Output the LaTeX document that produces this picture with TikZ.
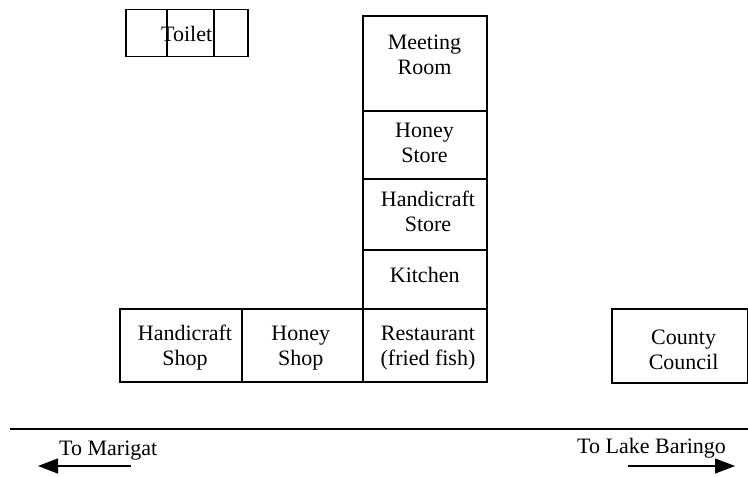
\documentclass[tikz,border=0pt]{standalone}
\usepackage{fontspec}
\setmainfont{Liberation Serif}
\usetikzlibrary{arrows.meta,calc}
\tikzset{
  room/.style={draw, line width=1.3pt, rectangle, inner sep=0pt},
  txt/.style={inner sep=0pt, anchor=base, align=center,
    font=\fontsize{22}{25}\selectfont},
  lbl/.style={inner sep=0pt, anchor=base west, font=\fontsize{22}{25}\selectfont},
  road/.style={line width=1.3pt},
  dir/.style={line width=1.3pt, -{Triangle[length=20pt,width=15pt]}}
}
\begin{document}
\begin{tikzpicture}[x=1pt,y=-1pt]
\useasboundingbox (0,0) rectangle (748,477);
% toilet
\node[room, minimum width=122pt, minimum height=47pt] (toilet) at (187,33) {};
\draw[line width=1.3pt] ($(toilet.north west)!0.338!(toilet.north east)$) coordinate (t1) -- ($(toilet.south west)!0.338!(toilet.south east)$) coordinate (t2);
\draw[line width=1.3pt] ($(toilet.north west)!0.72!(toilet.north east)$) coordinate (t3) -- ($(toilet.south west)!0.72!(toilet.south east)$) coordinate (t4);
\node[txt] (toiletlbl) at (186.7,41) {Toilet};
% column
\node[room, minimum width=124pt, minimum height=95pt] (meet) at (425,63.5) {};
\node[room, minimum width=124pt, minimum height=68pt] (hstore) at (425,145) {};
\node[room, minimum width=124pt, minimum height=71pt] (cstore) at (425,214.5) {};
\node[room, minimum width=124pt, minimum height=59pt] (kitchen) at (425,279.5) {};
\node[room, minimum width=124pt, minimum height=73pt] (rest) at (425,345.5) {};
% base anchor = baseline of the last line
\node[txt] (meetlbl) at (424.5,74.8) {Meeting\\Room};
\node[txt] (hstorelbl) at (424.5,162.7) {Honey\\Store};
\node[txt] (cstorelbl) at (428,231.5) {Handicraft\\Store};
\node[txt] (kitchenlbl) at (424.7,282.3) {Kitchen};
\node[txt] (restlbl) at (428,365.7) {Restaurant\\(fried fish)};
% row
\node[room, minimum width=122pt, minimum height=73pt] (cshop) at (181,345.5) {};
\node[room, minimum width=121pt, minimum height=73pt] (hshop) at (302.5,345.5) {};
\node[txt] (cshoplbl) at (185,365.7) {Handicraft\\Shop};
\node[txt] (hshoplbl) at (300.7,365.7) {Honey\\Shop};
% county council
\node[room, minimum width=136pt, minimum height=74pt] (county) at (680,346) {};
\node[txt] (countylbl) at (683.6,369) {County\\Council};
% road
\coordinate (roadL) at (10,429);
\coordinate (roadR) at (748,429);
\draw[road] (roadL) -- (roadR);
% directions
\node[lbl] (marigat) at (59,455) {To Marigat};
\node[lbl] (baringo) at (577,453.3) {To Lake Baringo};
\coordinate (mA) at (131,466);
\coordinate (mB) at (38,466);
\coordinate (bA) at (628,466);
\coordinate (bB) at (735,466);
\draw[dir] (mA) -- (mB);
\draw[dir] (bA) -- (bB);
\end{tikzpicture}
\end{document}
